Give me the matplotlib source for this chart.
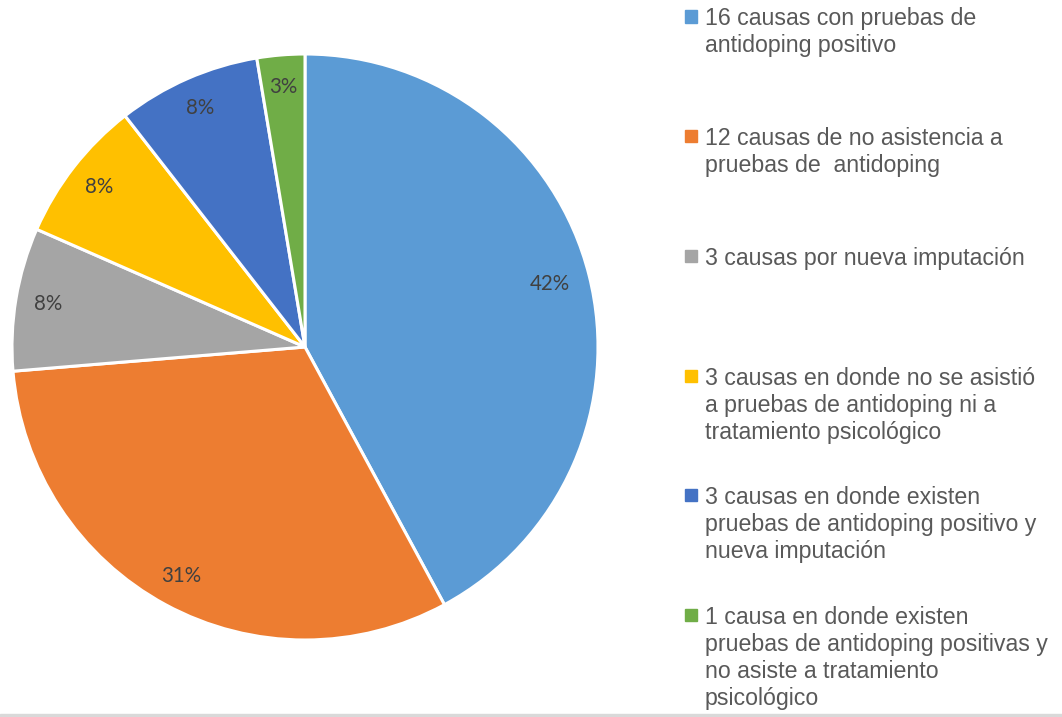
import matplotlib.pyplot as plt
from matplotlib.patches import Rectangle

labels = [
    '16 causas con pruebas de\nantidoping positivo',
    '12 causas de no asistencia a\npruebas de  antidoping',
    '3 causas por nueva imputación',
    '3 causas en donde no se asistió\na pruebas de antidoping ni a\ntratamiento psicológico',
    '3 causas en donde existen\npruebas de antidoping positivo y\nnueva imputación',
    '1 causa en donde existen\npruebas de antidoping positivas y\nno asiste a tratamiento\npsicológico',
]
values = [16, 12, 3, 3, 3, 1]
pct_labels = ['42%', '31%', '8%', '8%', '8%', '3%']
colors = ['#5B9BD5', '#ED7D31', '#A5A5A5', '#FFC000', '#4472C4', '#70AD47']

W, H = 1062, 717
fig = plt.figure(figsize=(W / 100, H / 100), dpi=100)

# pie: center (305, 347), radius 293 px
cx, cy, r = 305, 347, 293
ax = fig.add_axes([(cx - r) / W, (H - cy - r) / H, 2 * r / W, 2 * r / H])
pct_iter = iter(pct_labels)
wedges, texts, autotexts = ax.pie(
    values, colors=colors, startangle=90, counterclock=False,
    autopct=lambda p: next(pct_iter), pctdistance=0.89, radius=1,
    wedgeprops=dict(edgecolor='white', linewidth=2.2),
    textprops=dict(color='#404040', fontsize=14.8, family='Lato'))
autotexts[0].set_position((0.86 * 0.97, 0.86 * 0.25))
ax.set_xlim(-1, 1)
ax.set_ylim(-1, 1)
ax.axis('off')

# legend drawn by hand
for i, (lab, col) in enumerate(zip(labels, colors)):
    ymid = 16.5 + i * 119.7
    fig.patches.append(Rectangle((685 / W, 1 - (ymid + 6) / H), 12 / W, 12 / H,
                                 transform=fig.transFigure, color=col))
    fig.text(705 / W, 1 - (ymid - 9) / H, lab, ha='left', va='top',
             fontsize=16.7, family='Liberation Sans', color='#595959',
             linespacing=1.22)

# thin gray line at the bottom
fig.patches.append(Rectangle((0, 0), 1, 3 / H, transform=fig.transFigure,
                             color='#D9D9D9'))

fig.savefig('out.png', dpi=100)
